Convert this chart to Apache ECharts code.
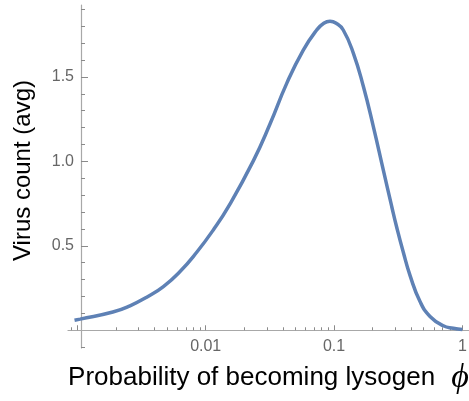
<!DOCTYPE html>
<html>
<head>
<meta charset="utf-8">
<script src="https://cdn.jsdelivr.net/npm/echarts@6/dist/echarts.min.js"></script>
<style>
  html, body { margin: 0; padding: 0; background: #fff; }
  #main { width: 469px; height: 401px; }
</style>
</head>
<body>
<div id="main"></div>
<script>
// probability of becoming lysogen (phi) and average virus count
var phi = [0.00095, 0.00105, 0.00189, 0.00257, 0.00347, 0.00468, 0.00631, 0.00851,
  0.01146, 0.0152, 0.0235, 0.0317, 0.0428, 0.0576, 0.0733, 0.0832, 0.093, 0.104, 0.118,
  0.1416, 0.1694, 0.2025, 0.242, 0.2816, 0.308, 0.3467, 0.391, 0.468, 0.56,
  0.711, 0.85, 1.0];
var virusCount = [0.059, 0.066, 0.108, 0.145, 0.196, 0.259, 0.348, 0.462,
  0.594, 0.738, 1.003, 1.221, 1.462, 1.659, 1.778, 1.818, 1.83, 1.818, 1.778,
  1.64, 1.443, 1.206, 0.95, 0.733, 0.61, 0.462, 0.325, 0.17, 0.082,
  0.027, 0.012, 0.004];

// x ticks (log scale)
var xMajorTicks = [0.001, 0.01, 0.1, 1];
var xLabelValues = [0.01, 0.1, 1];
var xLabels = ['0.01', '0.1', '1'];
var xMinorTicks = [0.0009,
  0.002, 0.003, 0.004, 0.005, 0.006, 0.007, 0.008, 0.009,
  0.02, 0.03, 0.04, 0.05, 0.06, 0.07, 0.08, 0.09,
  0.2, 0.3, 0.4, 0.5, 0.6, 0.7, 0.8, 0.9];
var xMin = 0.000845, xMax = 1.127;

// y ticks
var yMajorTicks = [0.5, 1.0, 1.5];
var yLabels = ['0.5', '1.0', '1.5'];
var yMinorTicks = [-0.1, 0.1, 0.2, 0.3, 0.4, 0.6, 0.7, 0.8, 0.9,
  1.1, 1.2, 1.3, 1.4, 1.6, 1.7, 1.8, 1.9];
var yMin = -0.105, yMax = 1.926;

var axisColor = '#a8a8a8';
var tickColor = '#8a8a8a';
var labelColor = '#666666';

var chart = echarts.init(document.getElementById('main'), null, { renderer: 'canvas' });

function lg(v) { return Math.log10(v); }

function xLabelFmt(v) {
  for (var i = 0; i < xLabelValues.length; i++) {
    if (Math.abs(lg(xLabelValues[i]) - v) < 1e-6) return xLabels[i];
  }
  return '';
}
function yLabelFmt(v) {
  for (var i = 0; i < yMajorTicks.length; i++) {
    if (Math.abs(yMajorTicks[i] - v) < 1e-6) return yLabels[i];
  }
  return '';
}

var option = {
  animation: false,
  grid: {
    left: 68, right: 0, top: 5, bottom: 53,
    containLabel: false,
    outerBoundsMode: 'none'
  },
  xAxis: [{
    type: 'value',
    position: 'bottom',
    min: lg(xMin), max: lg(xMax),
    axisLine: { show: true, onZero: true, onZeroAxisIndex: 0, lineStyle: { color: axisColor, width: 1.2 } },
    axisTick: { show: true, inside: true, length: 5, customValues: xMajorTicks.map(lg), lineStyle: { color: tickColor, width: 1 } },
    axisLabel: {
      show: true, customValues: xLabelValues.map(lg), formatter: xLabelFmt,
      color: labelColor, fontSize: 16, fontFamily: 'Liberation Sans', margin: -9
    },
    splitLine: { show: false },
    name: '{t|Probability of becoming lysogen} {p|ϕ}',
    nameLocation: 'middle',
    nameGap: 13,
    nameMoveOverlap: false,
    nameTextStyle: {
      color: '#000', fontSize: 26, fontFamily: 'Liberation Sans',
      rich: {
        t: { fontSize: 26, fontFamily: 'Liberation Sans', color: '#000' },
        p: { fontSize: 34, fontStyle: 'italic', fontFamily: 'Liberation Serif', color: '#000', padding: [0, 0, 0, 9] }
      }
    }
  }, {
    type: 'value',
    position: 'bottom',
    min: lg(xMin), max: lg(xMax),
    axisLine: { show: false, onZero: true, onZeroAxisIndex: 0 },
    axisTick: { show: true, inside: true, length: 3, customValues: xMinorTicks.map(lg), lineStyle: { color: tickColor, width: 1 } },
    axisLabel: { show: false },
    splitLine: { show: false }
  }],
  yAxis: [{
    type: 'value',
    position: 'left',
    min: yMin, max: yMax,
    offset: -13,
    axisLine: { show: true, onZero: false, lineStyle: { color: axisColor, width: 1.2 } },
    axisTick: { show: true, inside: true, length: 7, customValues: yMajorTicks, lineStyle: { color: tickColor, width: 1 } },
    axisLabel: {
      show: true, customValues: yMajorTicks, formatter: yLabelFmt,
      color: labelColor, fontSize: 16, fontFamily: 'Liberation Sans', margin: 7
    },
    splitLine: { show: false },
    name: 'Virus count (avg)',
    nameLocation: 'middle',
    nameGap: 46,
    nameMoveOverlap: false,
    nameTextStyle: { color: '#000', fontSize: 24, fontFamily: 'Liberation Sans', padding: [0, 0, 0, 12] }
  }, {
    type: 'value',
    position: 'left',
    min: yMin, max: yMax,
    offset: -13,
    axisLine: { show: false, onZero: false },
    axisTick: { show: true, inside: true, length: 4, customValues: yMinorTicks, lineStyle: { color: tickColor, width: 1 } },
    axisLabel: { show: false },
    splitLine: { show: false }
  }],
  series: [{
    type: 'line',
    xAxisIndex: 0,
    yAxisIndex: 0,
    data: phi.map(function (p, i) { return [lg(p), virusCount[i]]; }),
    showSymbol: false,
    smooth: 0.5,
    lineStyle: { color: '#5E81B5', width: 3.5 },
    itemStyle: { color: '#5E81B5' }
  }]
};

chart.setOption(option);
</script>
</body>
</html>
